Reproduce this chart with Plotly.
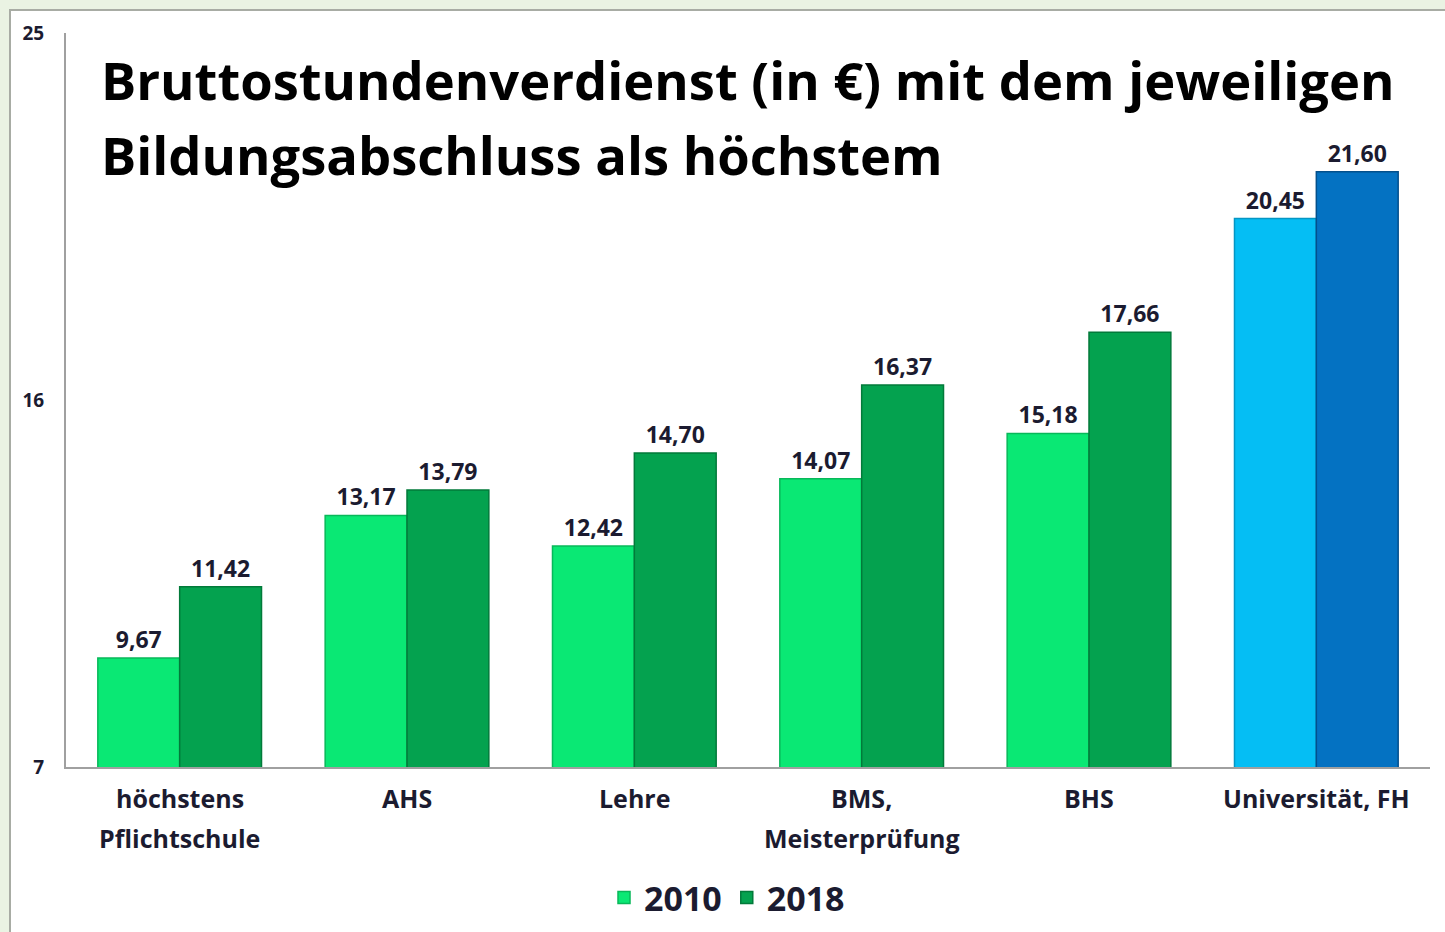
"""Bruttostundenverdienst nach höchstem Bildungsabschluss, 2010 vs. 2018."""
import plotly.graph_objects as go

categories = ["höchstens<br>Pflichtschule", "AHS", "Lehre", "BMS,<br>Meisterprüfung", "BHS", "Universität, FH"]
values_2010 = [9.67, 13.17, 12.42, 14.07, 15.18, 20.45]
values_2018 = [11.42, 13.79, 14.70, 16.37, 17.66, 21.60]
y_ticks = [7, 16, 25]
title_lines = ["Bruttostundenverdienst (in €) mit dem jeweiligen", "Bildungsabschluss als höchstem"]

# letzte Gruppe (Uni) blau hervorgehoben
col_2010 = ["#0AE874"] * 5 + ["#05BEF4"]
col_2018 = ["#04A24F"] * 5 + ["#0472C2"]
line_2010 = ["#08B85A"] * 5 + ["#0596C4"]
line_2018 = ["#027A3A"] * 5 + ["#03508C"]

FONT = "Open Sans"
TXT = "#1b1b30"

W, H = 1445, 932
L, R, T, B = 66, 15, 33, 165
pw, ph = W - L - R, H - T - B


def px_x(px):
    return (px - L) / pw


def px_y(py):
    return (H - B - py) / ph


fig = go.Figure()
for name, vals, cols, lcols in [
    ("2010", values_2010, col_2010, line_2010),
    ("2018", values_2018, col_2018, line_2018),
]:
    fig.add_trace(go.Bar(
        x=categories, y=vals, name=name,
        marker=dict(color=cols, line=dict(color=lcols, width=1.5)),
        texttemplate="%{y:.2f}", textposition="outside",
        textfont=dict(family=FONT, size=23, color=TXT, weight="bold"),
        cliponaxis=False,
    ))

# weißes Panel mit grauem Rand auf hellgrünem Hintergrund
fig.add_shape(
    type="rect", xref="paper", yref="paper",
    x0=px_x(10), x1=px_x(W + 20), y0=px_y(H + 20), y1=px_y(10),
    line=dict(color="#a8aca4", width=2), fillcolor="white", layer="below",
)

for i, line in enumerate(title_lines):
    fig.add_annotation(
        xref="paper", yref="paper", x=px_x(99), y=px_y(79 + 75 * i),
        xanchor="left", yanchor="middle", align="left", showarrow=False,
        text=line, font=dict(family=FONT, size=52.5, color="#000000", weight="bold"),
    )

# Kategorienbeschriftung als Annotationen (größerer Zeilenabstand als Ticklabels)
for cat in categories:
    for i, part in enumerate(cat.split("<br>")):
        fig.add_annotation(
            x=cat, xref="x", yref="paper", y=px_y(798 + 40 * i),
            yanchor="middle", showarrow=False, text=part,
            font=dict(family=FONT, size=25, color=TXT, weight="bold"),
        )

fig.update_layout(
    width=W, height=H,
    margin=dict(l=L, r=R, t=T, b=B, autoexpand=False),
    paper_bgcolor="#EAF3E3", plot_bgcolor="rgba(0,0,0,0)",
    separators=",.",
    barmode="group", bargap=0.28, bargroupgap=0,
    showlegend=True,
    legend=dict(
        orientation="h", x=px_x(727), xanchor="center", y=px_y(898), yanchor="middle",
        font=dict(family=FONT, size=34, color=TXT, weight="bold"),
        bgcolor="rgba(0,0,0,0)", itemclick=False,
    ),
    xaxis=dict(
        showline=True, linecolor="#a0a0a0", linewidth=2, ticks="",
        showticklabels=False,
    ),
    yaxis=dict(
        range=[7, 25], tickvals=y_ticks, showgrid=False, zeroline=False,
        showline=True, linecolor="#a0a0a0", linewidth=2, ticks="",
        tickfont=dict(family=FONT, size=19, color=TXT, weight="bold"),
        ticklabelstandoff=16,
    ),
)

fig.write_html(
    "out.html",
    config={"displayModeBar": False},
    post_script="document.body.style.margin='0';document.body.style.background='#EAF3E3';",
)
